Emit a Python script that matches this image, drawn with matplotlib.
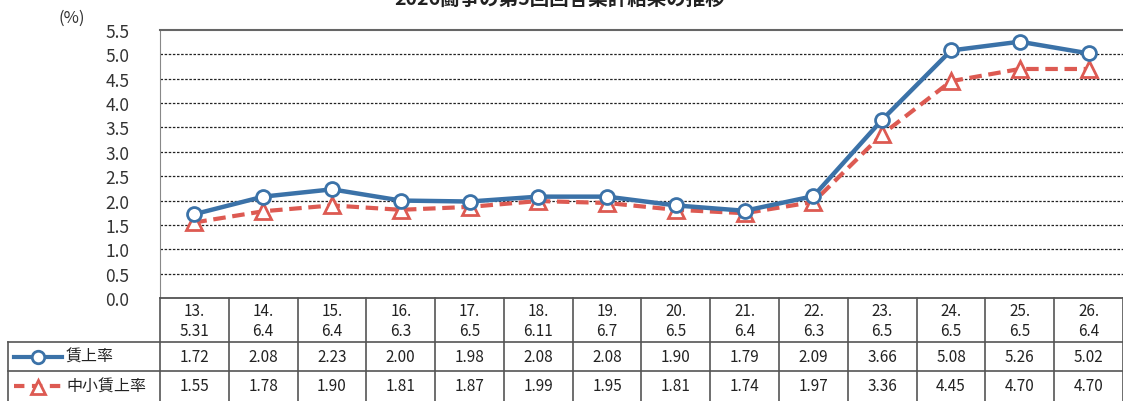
import matplotlib
matplotlib.use("Agg")
import matplotlib.pyplot as plt
from matplotlib.lines import Line2D

plt.rcParams['font.family'] = ['Noto Sans CJK JP', 'DejaVu Sans']

years = ["13.", "14.", "15.", "16.", "17.", "18.", "19.", "20.", "21.", "22.", "23.", "24.", "25.", "26."]
dates = ["5.31", "6.4", "6.4", "6.3", "6.5", "6.11", "6.7", "6.5", "6.4", "6.3", "6.5", "6.5", "6.5", "6.4"]
wage_rate = [1.72, 2.08, 2.23, 2.00, 1.98, 2.08, 2.08, 1.90, 1.79, 2.09, 3.66, 5.08, 5.26, 5.02]
sme_rate = [1.55, 1.78, 1.90, 1.81, 1.87, 1.99, 1.95, 1.81, 1.74, 1.97, 3.36, 4.45, 4.70, 4.70]
series_names = ["賃上率", "中小賃上率"]
yticks = [0.0, 0.5, 1.0, 1.5, 2.0, 2.5, 3.0, 3.5, 4.0, 4.5, 5.0, 5.5]
title = "2026闘争の第5回回答集計結果の推移"

BLUE = "#3b72a8"
RED = "#dd5a52"

W, H = 1123, 402
fig = plt.figure(figsize=(W / 100, H / 100), dpi=100)

x0, x1 = 160, 1123
ytop, ybot = 31, 299
ax = fig.add_axes([x0 / W, (H - ybot) / H, (x1 - x0) / W, (ybot - ytop) / H])
n = len(years)
xs = list(range(n))

ax.plot(xs, wage_rate, color=BLUE, lw=3.2, marker="o", ms=10, mfc="white",
        mec=BLUE, mew=2, zorder=4)
ax.plot(xs, sme_rate, color=RED, lw=3, ls=(0, (3, 1.6)), marker="^", ms=11,
        mfc="white", mec=RED, mew=2, zorder=3)

ax.set_xlim(-0.5, n - 0.5)
ax.set_ylim(0, 5.5)
ax.set_yticks(yticks)
ax.set_yticklabels([f"{v:.1f}" for v in yticks], fontsize=12.5, color="#333333")
ax.tick_params(axis="y", length=0, pad=22)
ax.set_xticks([])
for v in yticks[1:-1]:
    ax.axhline(v, color="#222222", lw=0.9, ls=(0, (2, 1.3)), zorder=1)
ax.spines["right"].set_visible(False)
ax.spines["left"].set_color("#888888")
ax.spines["top"].set_color("#666666")
ax.spines["top"].set_linewidth(1.5)
ax.spines["bottom"].set_color("#444444")
ax.spines["bottom"].set_linewidth(1.2)

fig.text(72 / W, 1 - 18 / H, "(%)", fontsize=12, ha="center", va="center", color="#333333")
fig.text(560 / W, 1 + 1 / H, title, fontsize=14, fontweight="bold", ha="center",
         va="center", color="#222222")

# table
tab = fig.add_axes([x0 / W, 0, (x1 - x0) / W, (H - ybot) / H])
tab.set_xlim(-0.5, n - 0.5)
tab.set_ylim(H - ybot, 0)
tab.axis("off")
r1, r2, r3 = 44, 73, H - ybot
lc = "#555555"
colw = (x1 - x0) / n
legx0 = -0.5 - (x0 - 8) / colw
for i in range(n + 1):
    tab.plot([i - 0.5, i - 0.5], [0, r3], color=lc, lw=1.2, clip_on=False)
tab.plot([legx0, legx0], [r1, r3], color=lc, lw=1.2, clip_on=False)
tab.plot([legx0, n - 0.5], [r1, r1], color=lc, lw=1.2, clip_on=False)
tab.plot([legx0, n - 0.5], [r2, r2], color=lc, lw=1.2, clip_on=False)
for i in range(n):
    tab.text(i, 13, years[i], ha="center", va="center", fontsize=11, color="#222222")
    tab.text(i, 32, dates[i], ha="center", va="center", fontsize=11, color="#222222")
    tab.text(i, (r1 + r2) / 2, f"{wage_rate[i]:.2f}", ha="center", va="center",
             fontsize=11, color="#222222")
    tab.text(i, (r2 + r3) / 2, f"{sme_rate[i]:.2f}", ha="center", va="center",
             fontsize=11, color="#222222")

# legend keys in table
u = 1 / colw
k0, k1 = legx0 + 6 * u, legx0 + 54 * u
kc = (k0 + k1) / 2
tab.add_line(Line2D([k0, k1], [(r1 + r2) / 2] * 2, color=BLUE, lw=3, clip_on=False))
tab.plot([kc], [(r1 + r2) / 2], marker="o", ms=9, mfc="white", mec=BLUE, mew=2, clip_on=False)
tab.add_line(Line2D([k0, k1], [(r2 + r3) / 2] * 2, color=RED, lw=3, ls=(0, (2.5, 1.8)), clip_on=False))
tab.plot([kc], [(r2 + r3) / 2 + 1], marker="^", ms=10, mfc="white", mec=RED, mew=2, clip_on=False)
tab.text(legx0 + 58 * u, (r1 + r2) / 2, series_names[0], ha="left", va="center", fontsize=11.5, color="#222222")
tab.text(legx0 + 58 * u, (r2 + r3) / 2, series_names[1], ha="left", va="center", fontsize=11.5, color="#222222")

fig.savefig("out.png", dpi=100)
